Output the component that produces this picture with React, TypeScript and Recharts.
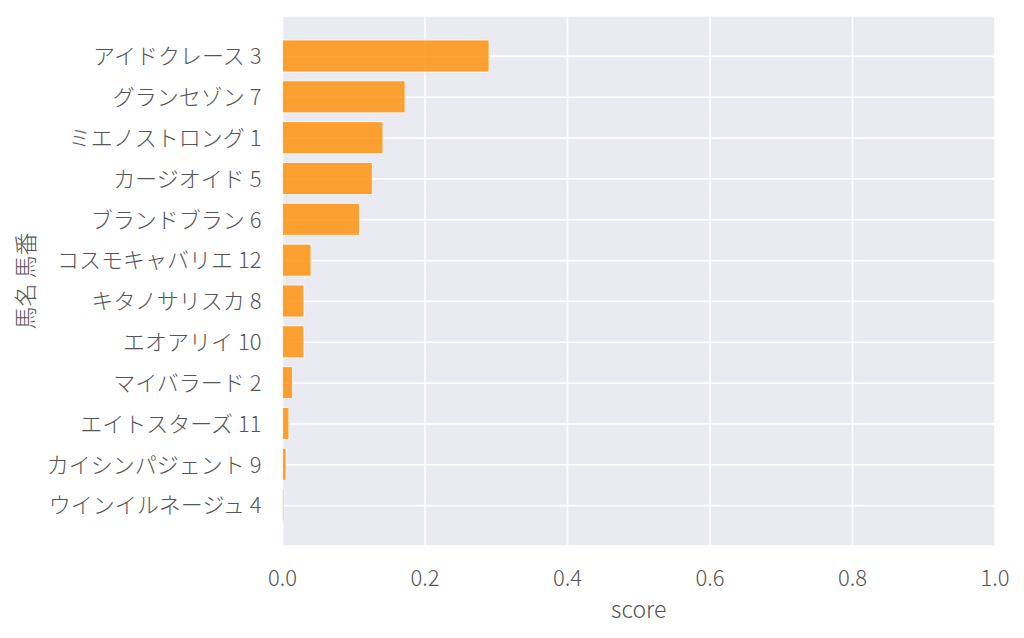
import React from "react";
import { BarChart, Bar, XAxis, YAxis, CartesianGrid, Label } from "recharts";

const horseNames = [
  "アイドクレース",
  "グランセゾン",
  "ミエノストロング",
  "カージオイド",
  "ブランドブラン",
  "コスモキャバリエ",
  "キタノサリスカ",
  "エオアリイ",
  "マイバラード",
  "エイトスターズ",
  "カイシンパジェント",
  "ウインイルネージュ",
];
const horseNumbers = [3, 7, 1, 5, 6, 12, 8, 10, 2, 11, 9, 4];
const scores = [0.29, 0.172, 0.141, 0.126, 0.108, 0.04, 0.03, 0.03, 0.014, 0.009, 0.005, 0.002];
const xTicks = [0, 0.2, 0.4, 0.6, 0.8, 1.0];

const data = horseNames.map((name, i) => ({
  label: `${name} ${horseNumbers[i]}`,
  score: scores[i],
}));

const FONT = '"Noto Sans CJK JP", "Noto Sans", sans-serif';
const TEXT = "#555555";

function YTitle({ viewBox }: any) {
  const cy = viewBox.y + viewBox.height / 2;
  return (
    <text
      transform={`translate(24, ${cy}) rotate(-90)`}
      textAnchor="middle"
      dominantBaseline="central"
      fontFamily={FONT}
      fontWeight={300}
      fontSize={23}
      fill={TEXT}
    >
      馬名 馬番
    </text>
  );
}

export default function App() {
  return (
    <div style={{ position: "absolute", left: 0, top: 0, background: "#fff" }}>
      <BarChart
        width={1024}
        height={638}
        data={data}
        layout="vertical"
        margin={{ top: 16, right: 29, bottom: 0, left: 0 }}
      >
        <CartesianGrid fill="#eaeaf2" stroke="#ffffff" strokeWidth={1.6} />
        <XAxis
          type="number"
          dataKey="score"
          domain={[0, 1]}
          ticks={xTicks}
          tickFormatter={(v: number) => v.toFixed(1)}
          axisLine={false}
          tickLine={false}
          tickSize={0}
          tickMargin={24}
          height={92}
          tick={{ fontFamily: FONT, fontWeight: 300, fontSize: 22, fill: TEXT }}
        >
          <Label
            value="score"
            position="insideBottom"
            offset={20}
            style={{ fontFamily: FONT, fontWeight: 300, fontSize: 23, fill: TEXT }}
          />
        </XAxis>
        <YAxis
          type="category"
          dataKey="label"
          width={282.5}
          axisLine={false}
          tickLine={false}
          tickSize={0}
          tickMargin={21}
          interval={0}
          padding={{ top: 20, bottom: 20 }}
          tick={{ fontFamily: FONT, fontWeight: 300, fontSize: 22, fill: TEXT }}
        >
          <Label content={<YTitle />} />
        </YAxis>
        <Bar
          dataKey="score"
          barSize={32}
          fill="#ff8c00"
          fillOpacity={0.8}
          stroke="#ffffff"
          strokeOpacity={0.8}
          strokeWidth={1}
          isAnimationActive={false}
        />
      </BarChart>
    </div>
  );
}
